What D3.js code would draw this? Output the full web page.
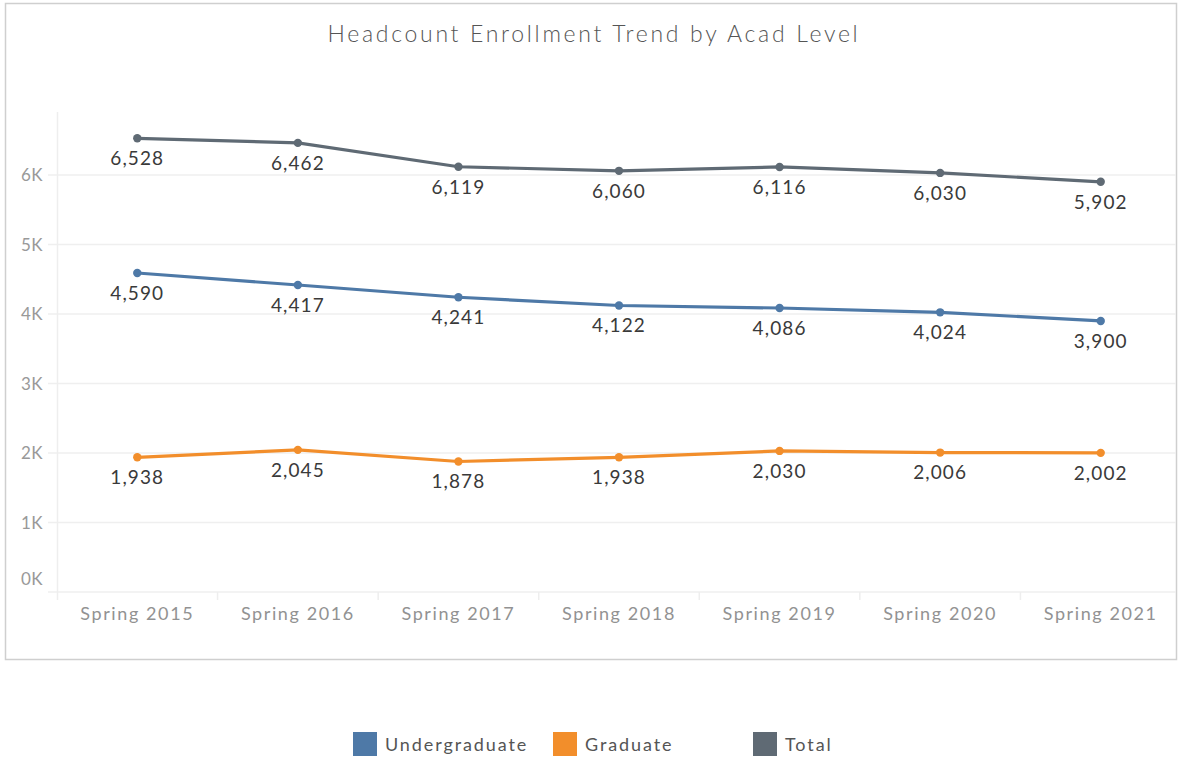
<!DOCTYPE html>
<html>
<head>
<meta charset="utf-8">
<script src="https://cdnjs.cloudflare.com/ajax/libs/d3/7.8.5/d3.min.js"></script>
<style>
  body { margin: 0; background: #fff; }
  text { font-family: "Lato", "Open Sans", sans-serif; }
</style>
</head>
<body>
<svg id="chart" width="1179" height="761"></svg>
<script>
// chart data
var terms = ["Spring 2015", "Spring 2016", "Spring 2017", "Spring 2018", "Spring 2019", "Spring 2020", "Spring 2021"];
var undergraduate = [4590, 4417, 4241, 4122, 4086, 4024, 3900];
var graduate = [1938, 2045, 1878, 1938, 2030, 2006, 2002];
var total = [6528, 6462, 6119, 6060, 6116, 6030, 5902];
var yTicks = [0, 1000, 2000, 3000, 4000, 5000, 6000];
var seriesNames = ["Undergraduate", "Graduate", "Total"];
var seriesColors = ["#4e79a7", "#f28e2b", "#5f6a74"];

var series = [
	{ name: seriesNames[0], values: undergraduate, color: seriesColors[0] },
	{ name: seriesNames[1], values: graduate, color: seriesColors[1] },
	{ name: seriesNames[2], values: total, color: seriesColors[2] }
];

var svg = d3.select("#chart");

// outer frame
svg.append("rect")
	.attr("x", 5.5).attr("y", 3.5)
	.attr("width", 1171).attr("height", 656)
	.attr("fill", "none")
	.attr("stroke", "#cfcfcf")
	.attr("stroke-width", 1.5);

svg.append("text")
	.attr("x", 594).attr("y", 42)
	.attr("text-anchor", "middle")
	.attr("font-size", 23)
	.attr("letter-spacing", 2.7)
	.attr("fill", "#555")
	.style("font-weight", 300)
	.text("Headcount Enrollment Trend by Acad Level");

var x = d3.scaleBand().domain(terms).range([57, 1181]).padding(0);
var y = d3.scaleLinear().domain([0, 1000]).range([592, 522.5]);

// gridlines
svg.append("g").selectAll("line")
	.data(yTicks)
	.join("line")
	.attr("x1", 48).attr("x2", 1176)
	.attr("y1", function(d) { return y(d); })
	.attr("y2", function(d) { return y(d); })
	.attr("stroke", "#efefef")
	.attr("stroke-width", 1.5);

// y axis labels
svg.append("g").selectAll("text")
	.data(yTicks)
	.join("text")
	.attr("x", 43)
	.attr("y", function(d) { return d == 0 ? y(d) - 13 : y(d); })
	.attr("dy", "0.36em")
	.attr("text-anchor", "end")
	.attr("font-size", 17)
	.attr("letter-spacing", 0.5)
	.attr("fill", "#999")
	.text(function(d) { return (d / 1000) + "K"; });

// axis lines
svg.append("line")
	.attr("x1", 57.5).attr("x2", 57.5)
	.attr("y1", 112).attr("y2", 600)
	.attr("stroke", "#eee").attr("stroke-width", 1.5);

svg.append("g").selectAll("line")
	.data(terms.slice(1))
	.join("line")
	.attr("x1", function(d) { return x(d); })
	.attr("x2", function(d) { return x(d); })
	.attr("y1", 592).attr("y2", 600)
	.attr("stroke", "#eee").attr("stroke-width", 1.5);

// x axis labels
svg.append("g").selectAll("text")
	.data(terms)
	.join("text")
	.attr("x", function(d) { return x(d) + x.bandwidth() / 2; })
	.attr("y", 620)
	.attr("text-anchor", "middle")
	.attr("font-size", 18)
	.attr("letter-spacing", 1.6)
	.attr("fill", "#929292")
	.text(function(d) { return d; });

var line = d3.line()
	.x(function(d, i) { return x(terms[i]) + x.bandwidth() / 2; })
	.y(function(d) { return y(d); });

var fmt = d3.format(",");

series.forEach(function(s) {
	var g = svg.append("g");
	g.append("path")
		.attr("d", line(s.values))
		.attr("fill", "none")
		.attr("stroke", s.color)
		.attr("stroke-width", 3.2);
	g.selectAll("circle")
		.data(s.values)
		.join("circle")
		.attr("cx", function(d, i) { return x(terms[i]) + x.bandwidth() / 2; })
		.attr("cy", function(d) { return y(d); })
		.attr("r", 4.2)
		.attr("fill", s.color);
	g.selectAll("text")
		.data(s.values)
		.join("text")
		.attr("x", function(d, i) { return x(terms[i]) + x.bandwidth() / 2; })
		.attr("y", function(d) { return y(d) + 20; })
		.attr("dy", "0.36em")
		.attr("text-anchor", "middle")
		.attr("font-size", 19)
		.attr("letter-spacing", 1.1)
		.attr("fill", "#3a3a3a")
		.text(function(d) { return fmt(d); });
});

// legend
var legendX = [353, 553, 753];
var legend = svg.append("g").selectAll("g")
	.data(series)
	.join("g")
	.attr("transform", function(d, i) { return "translate(" + legendX[i] + ",732)"; });
legend.append("rect")
	.attr("width", 24).attr("height", 24)
	.attr("fill", function(d) { return d.color; });
legend.append("text")
	.attr("x", 32).attr("y", 13)
	.attr("dy", "0.36em")
	.attr("font-size", 18)
	.attr("letter-spacing", 1.9)
	.attr("fill", "#555")
	.text(function(d) { return d.name; });
</script>
</body>
</html>
